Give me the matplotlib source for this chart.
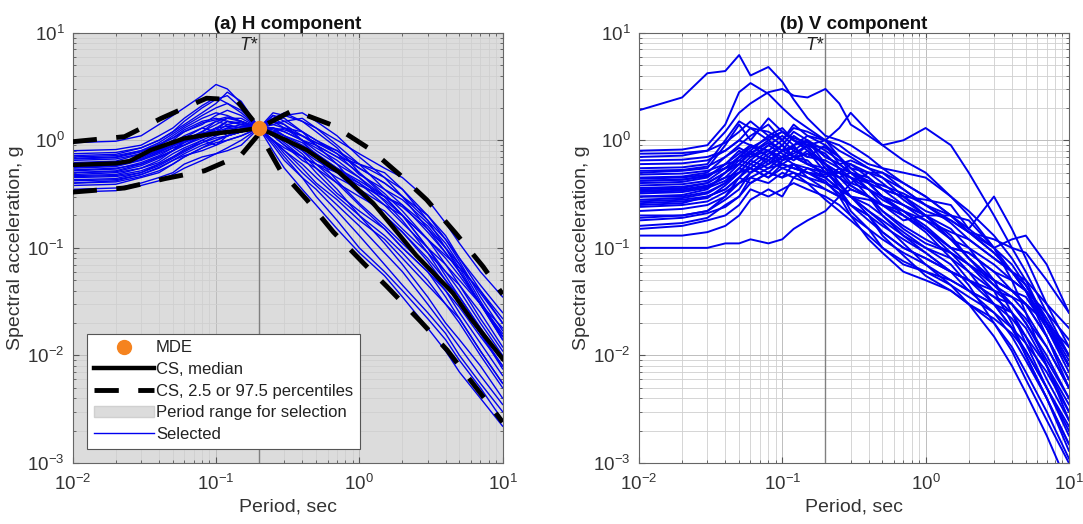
import matplotlib
matplotlib.use("Agg")
import matplotlib.pyplot as plt
from matplotlib.lines import Line2D
from matplotlib.patches import Patch

plt.rcParams["font.family"] = ["Liberation Sans", "DejaVu Sans"]
plt.rcParams["mathtext.default"] = "regular"

# ==========================================================
# Data
# ==========================================================

periods = [0.01, 0.02, 0.03, 0.04, 0.05, 0.06, 0.08, 0.1, 0.12, 0.15, 0.2, 0.25,
           0.3, 0.4, 0.5, 0.7, 1, 1.5, 2, 3, 4, 5, 7, 10]

t_star = 0.2
mde_sa = 1.3

cs_med_periods = [0.01, 0.02, 0.025, 0.035, 0.06, 0.1, 0.15, 0.2, 0.3, 0.43,
                  0.73, 1.25, 2.5, 4.5, 6, 10]
cs_median = [0.59, 0.61, 0.64, 0.81, 1.04, 1.16, 1.23, 1.3, 1.02, 0.81,
             0.5, 0.26, 0.085, 0.038, 0.022, 0.0093]

cs_hi_periods = [0.01, 0.023, 0.0415, 0.071, 0.086, 0.139, 0.2, 0.345, 0.66,
                 1.2, 1.91, 2.95, 4.7, 7.3, 10]
cs_hi = [0.97, 1.08, 1.6, 2.2, 2.46, 2.37, 1.3, 1.9, 1.37,
         0.82, 0.48, 0.28, 0.137, 0.067, 0.037]

cs_lo_periods = [0.01, 0.023, 0.044, 0.083, 0.15, 0.2, 0.214, 0.28, 0.43, 0.66,
                 1.07, 1.55, 2.65, 4.1, 6.2, 10]
cs_lo = [0.33, 0.36, 0.44, 0.52, 0.73, 1.15, 1.0, 0.53, 0.28, 0.14,
         0.072, 0.044, 0.021, 0.0112, 0.0055, 0.0024]

h_selected = [
    [0.95, 0.98, 1.1, 1.4, 1.7, 2.0, 2.6, 3.3, 3.0, 2.2, 1.3, 1.8, 1.7, 1.5, 1.3, 1.0, 0.75, 0.55, 0.45, 0.28, 0.17, 0.11, 0.06, 0.035],
    [0.72, 0.74, 0.85, 1.0, 1.2, 1.5, 2.0, 2.4, 2.6, 2.0, 1.3, 1.6, 1.4, 1.1, 0.9, 0.7, 0.6, 0.5, 0.35, 0.18, 0.1, 0.06, 0.03, 0.015],
    [0.55, 0.57, 0.65, 0.75, 0.85, 0.9, 1.1, 1.3, 1.5, 1.4, 1.3, 1.2, 1.0, 0.75, 0.55, 0.35, 0.2, 0.11, 0.07, 0.035, 0.02, 0.014, 0.008, 0.004],
    [0.45, 0.46, 0.5, 0.6, 0.7, 0.8, 1.0, 0.9, 1.1, 1.2, 1.3, 1.0, 0.8, 0.55, 0.4, 0.28, 0.18, 0.12, 0.08, 0.045, 0.03, 0.022, 0.011, 0.0055],
    [0.35, 0.36, 0.4, 0.45, 0.5, 0.6, 0.7, 0.75, 0.85, 1.0, 1.3, 1.1, 0.9, 0.65, 0.55, 0.4, 0.3, 0.22, 0.15, 0.09, 0.06, 0.045, 0.025, 0.012],
    [0.62, 0.64, 0.75, 0.9, 1.1, 1.3, 1.6, 1.8, 1.7, 1.5, 1.3, 1.4, 1.5, 1.6, 1.3, 0.9, 0.6, 0.35, 0.25, 0.14, 0.09, 0.06, 0.03, 0.016],
    [0.5, 0.52, 0.6, 0.7, 0.8, 1.0, 1.2, 1.5, 1.6, 1.5, 1.3, 0.9, 0.65, 0.45, 0.35, 0.22, 0.13, 0.07, 0.045, 0.025, 0.016, 0.01, 0.0055, 0.003],
    [0.6, 0.61, 0.68, 0.8, 0.95, 1.1, 1.3, 1.2, 1.4, 1.5, 1.3, 1.5, 1.3, 1.0, 0.8, 0.6, 0.45, 0.3, 0.2, 0.1, 0.06, 0.04, 0.02, 0.01],
    [0.4, 0.42, 0.48, 0.55, 0.65, 0.75, 0.9, 1.0, 1.1, 1.2, 1.3, 1.2, 1.1, 0.9, 0.75, 0.55, 0.4, 0.25, 0.17, 0.1, 0.07, 0.05, 0.03, 0.018],
    [0.8, 0.82, 0.9, 1.1, 1.3, 1.6, 2.1, 2.5, 2.2, 1.8, 1.3, 1.7, 1.6, 1.2, 1.0, 0.8, 0.55, 0.4, 0.3, 0.2, 0.13, 0.08, 0.04, 0.02],
    [0.52, 0.54, 0.62, 0.72, 0.85, 0.95, 1.2, 1.1, 1.3, 1.4, 1.3, 1.3, 1.2, 1.0, 0.9, 0.7, 0.5, 0.32, 0.22, 0.12, 0.07, 0.045, 0.022, 0.011],
    [0.65, 0.67, 0.75, 0.85, 1.0, 1.2, 1.4, 1.7, 1.9, 1.7, 1.3, 1.1, 0.9, 0.7, 0.6, 0.45, 0.35, 0.25, 0.2, 0.12, 0.08, 0.055, 0.03, 0.015],
    [0.38, 0.39, 0.45, 0.5, 0.6, 0.7, 0.85, 0.95, 1.0, 1.1, 1.3, 1.5, 1.7, 1.8, 1.5, 1.1, 0.7, 0.45, 0.3, 0.15, 0.09, 0.06, 0.03, 0.014],
    [0.58, 0.6, 0.7, 0.82, 0.95, 1.05, 1.3, 1.5, 1.4, 1.3, 1.3, 0.95, 0.7, 0.45, 0.3, 0.18, 0.1, 0.06, 0.04, 0.022, 0.014, 0.009, 0.005, 0.0025],
    [0.48, 0.5, 0.55, 0.65, 0.8, 0.9, 1.05, 1.2, 1.3, 1.25, 1.3, 1.4, 1.3, 1.2, 1.0, 0.75, 0.55, 0.4, 0.3, 0.18, 0.12, 0.08, 0.045, 0.025],
    [0.7, 0.72, 0.8, 0.95, 1.15, 1.35, 1.7, 2.0, 2.2, 1.9, 1.3, 1.2, 1.0, 0.8, 0.6, 0.4, 0.25, 0.15, 0.1, 0.06, 0.04, 0.028, 0.015, 0.008],
    [0.43, 0.44, 0.5, 0.58, 0.68, 0.78, 0.95, 1.1, 1.2, 1.25, 1.3, 1.0, 0.85, 0.7, 0.6, 0.5, 0.4, 0.28, 0.2, 0.1, 0.055, 0.035, 0.018, 0.009],
    [0.56, 0.58, 0.66, 0.78, 0.9, 1.0, 1.15, 1.3, 1.35, 1.3, 1.3, 1.6, 1.8, 1.5, 1.2, 0.85, 0.5, 0.3, 0.2, 0.12, 0.085, 0.065, 0.04, 0.022],
    [0.33, 0.34, 0.38, 0.42, 0.48, 0.55, 0.65, 0.75, 0.8, 0.9, 1.3, 1.7, 1.5, 1.2, 0.9, 0.6, 0.35, 0.2, 0.14, 0.08, 0.05, 0.035, 0.018, 0.009],
    [0.67, 0.69, 0.78, 0.92, 1.05, 1.25, 1.5, 1.6, 1.5, 1.4, 1.3, 1.1, 1.0, 0.85, 0.7, 0.5, 0.32, 0.2, 0.14, 0.075, 0.045, 0.03, 0.016, 0.0075],
    [0.5, 0.51, 0.58, 0.68, 0.8, 0.9, 1.1, 1.3, 1.1, 1.2, 1.3, 1.3, 1.1, 0.8, 0.65, 0.5, 0.38, 0.3, 0.25, 0.16, 0.1, 0.065, 0.03, 0.014],
    [0.75, 0.77, 0.85, 1.0, 1.2, 1.4, 1.8, 2.2, 2.8, 2.3, 1.3, 1.0, 0.8, 0.6, 0.45, 0.3, 0.2, 0.13, 0.09, 0.05, 0.03, 0.02, 0.01, 0.005],
    [0.42, 0.43, 0.48, 0.56, 0.65, 0.72, 0.8, 0.9, 1.0, 1.1, 1.3, 1.2, 1.3, 1.1, 0.95, 0.8, 0.6, 0.45, 0.35, 0.2, 0.12, 0.075, 0.035, 0.017],
    [0.6, 0.62, 0.7, 0.8, 0.9, 1.0, 1.2, 1.4, 1.6, 1.6, 1.3, 1.3, 1.2, 1.0, 0.85, 0.65, 0.45, 0.27, 0.18, 0.09, 0.05, 0.032, 0.016, 0.008],
    [0.47, 0.48, 0.55, 0.62, 0.75, 0.85, 1.0, 1.15, 1.25, 1.2, 1.3, 0.8, 0.55, 0.35, 0.25, 0.15, 0.09, 0.055, 0.035, 0.018, 0.011, 0.007, 0.004, 0.0022],
    [0.53, 0.55, 0.6, 0.7, 0.8, 0.95, 1.1, 1.25, 1.5, 1.45, 1.3, 1.0, 0.75, 0.5, 0.38, 0.25, 0.16, 0.09, 0.06, 0.03, 0.018, 0.012, 0.0065, 0.0035],
    [0.4, 0.41, 0.46, 0.52, 0.6, 0.7, 0.85, 1.0, 1.1, 1.2, 1.3, 1.15, 0.95, 0.7, 0.5, 0.32, 0.22, 0.15, 0.1, 0.06, 0.035, 0.022, 0.011, 0.0055],
    [0.68, 0.7, 0.8, 0.9, 1.05, 1.2, 1.45, 1.55, 1.65, 1.5, 1.3, 1.25, 1.1, 0.95, 0.75, 0.55, 0.42, 0.3, 0.24, 0.15, 0.1, 0.07, 0.038, 0.02],
    [0.46, 0.47, 0.52, 0.6, 0.7, 0.82, 0.95, 1.05, 1.1, 1.2, 1.3, 1.5, 1.4, 1.0, 0.7, 0.42, 0.26, 0.16, 0.11, 0.065, 0.04, 0.025, 0.013, 0.0065],
    [0.57, 0.59, 0.66, 0.77, 0.88, 0.98, 1.1, 1.2, 1.2, 1.35, 1.3, 1.3, 1.25, 1.1, 0.95, 0.75, 0.48, 0.35, 0.28, 0.17, 0.11, 0.07, 0.032, 0.015],
]

v_selected = [
    [1.9, 2.5, 4.2, 4.4, 6.2, 4.0, 4.8, 3.5, 2.4, 1.6, 1.1, 1.0, 0.9, 0.7, 0.55, 0.4, 0.3, 0.2, 0.14, 0.09, 0.06, 0.04, 0.02, 0.01],
    [0.8, 0.82, 0.9, 1.4, 2.8, 3.4, 2.7, 2.0, 1.6, 1.3, 1.0, 0.7, 0.55, 0.4, 0.3, 0.2, 0.15, 0.09, 0.06, 0.03, 0.018, 0.011, 0.005, 0.0022],
    [0.7, 0.72, 0.8, 1.2, 1.8, 2.2, 2.8, 3.0, 2.6, 2.5, 3.0, 2.2, 1.4, 1.1, 0.9, 0.65, 0.5, 0.3, 0.2, 0.1, 0.06, 0.04, 0.018, 0.008],
    [0.55, 0.56, 0.6, 1.0, 1.5, 1.3, 1.2, 1.0, 1.4, 1.1, 1.0, 1.3, 1.8, 1.2, 0.9, 1.0, 1.3, 0.9, 0.5, 0.2, 0.1, 0.06, 0.025, 0.01],
    [0.5, 0.52, 0.55, 0.9, 1.4, 1.0, 1.6, 1.2, 1.0, 0.9, 0.85, 0.7, 0.55, 0.5, 0.4, 0.28, 0.2, 0.12, 0.08, 0.045, 0.03, 0.02, 0.009, 0.004],
    [0.45, 0.46, 0.5, 0.7, 0.9, 1.1, 1.4, 1.0, 0.8, 1.0, 0.7, 0.6, 0.5, 0.35, 0.3, 0.22, 0.15, 0.1, 0.09, 0.06, 0.04, 0.03, 0.015, 0.006],
    [0.4, 0.41, 0.45, 0.6, 0.8, 0.7, 0.9, 1.1, 0.9, 1.0, 0.6, 0.45, 0.35, 0.3, 0.25, 0.18, 0.2, 0.15, 0.1, 0.05, 0.025, 0.013, 0.005, 0.0018],
    [0.35, 0.36, 0.4, 0.5, 0.7, 0.9, 0.8, 0.65, 0.7, 0.9, 0.75, 0.55, 0.4, 0.35, 0.25, 0.2, 0.14, 0.08, 0.05, 0.03, 0.018, 0.01, 0.004, 0.0013],
    [0.3, 0.31, 0.35, 0.5, 0.6, 0.8, 0.6, 0.7, 0.9, 0.6, 0.5, 0.5, 0.45, 0.3, 0.22, 0.16, 0.12, 0.09, 0.07, 0.045, 0.035, 0.025, 0.012, 0.005],
    [0.28, 0.29, 0.32, 0.4, 0.55, 0.5, 0.7, 0.6, 0.55, 0.5, 0.45, 0.35, 0.3, 0.25, 0.2, 0.14, 0.1, 0.07, 0.045, 0.02, 0.011, 0.006, 0.0025, 0.001],
    [0.25, 0.26, 0.3, 0.35, 0.45, 0.6, 0.5, 0.65, 0.8, 0.7, 0.9, 0.6, 0.5, 0.45, 0.35, 0.25, 0.2, 0.13, 0.08, 0.05, 0.04, 0.03, 0.02, 0.009],
    [0.22, 0.23, 0.25, 0.3, 0.4, 0.5, 0.65, 0.55, 0.6, 0.45, 0.4, 0.35, 0.25, 0.2, 0.16, 0.12, 0.09, 0.06, 0.05, 0.035, 0.025, 0.015, 0.006, 0.0025],
    [0.18, 0.19, 0.21, 0.24, 0.3, 0.45, 0.4, 0.5, 0.45, 0.55, 0.5, 0.4, 0.3, 0.22, 0.18, 0.13, 0.1, 0.08, 0.06, 0.04, 0.03, 0.02, 0.01, 0.004],
    [0.15, 0.16, 0.18, 0.2, 0.25, 0.35, 0.3, 0.35, 0.4, 0.35, 0.3, 0.25, 0.2, 0.15, 0.12, 0.09, 0.07, 0.05, 0.04, 0.03, 0.025, 0.018, 0.008, 0.003],
    [0.13, 0.13, 0.14, 0.16, 0.2, 0.28, 0.35, 0.3, 0.45, 0.4, 0.35, 0.3, 0.25, 0.2, 0.14, 0.1, 0.08, 0.06, 0.05, 0.035, 0.03, 0.022, 0.012, 0.005],
    [0.1, 0.1, 0.1, 0.11, 0.11, 0.12, 0.11, 0.12, 0.15, 0.18, 0.22, 0.3, 0.4, 0.5, 0.45, 0.35, 0.25, 0.2, 0.14, 0.12, 0.1, 0.09, 0.05, 0.025],
    [0.6, 0.61, 0.65, 0.8, 1.0, 1.3, 1.0, 0.8, 1.1, 0.9, 0.55, 0.45, 0.5, 0.4, 0.3, 0.25, 0.18, 0.12, 0.1, 0.07, 0.05, 0.04, 0.018, 0.007],
    [0.38, 0.39, 0.42, 0.55, 0.7, 0.75, 1.0, 1.2, 1.0, 0.8, 0.5, 0.38, 0.3, 0.22, 0.17, 0.11, 0.07, 0.045, 0.03, 0.015, 0.008, 0.0045, 0.0018, 0.0006],
    [0.33, 0.34, 0.37, 0.45, 0.5, 0.65, 0.55, 0.6, 0.7, 0.75, 0.6, 0.5, 0.45, 0.4, 0.35, 0.3, 0.22, 0.18, 0.14, 0.09, 0.06, 0.045, 0.022, 0.01],
    [0.48, 0.49, 0.52, 0.6, 0.75, 0.9, 0.7, 0.9, 1.2, 1.0, 0.8, 0.65, 0.6, 0.5, 0.5, 0.4, 0.3, 0.2, 0.15, 0.3, 0.15, 0.08, 0.03, 0.012],
    [0.27, 0.28, 0.3, 0.35, 0.45, 0.4, 0.5, 0.45, 0.6, 0.5, 0.4, 0.32, 0.25, 0.18, 0.14, 0.1, 0.08, 0.06, 0.05, 0.04, 0.035, 0.03, 0.02, 0.012],
    [0.42, 0.43, 0.46, 0.6, 0.65, 0.8, 1.1, 0.9, 0.7, 0.65, 0.45, 0.35, 0.3, 0.28, 0.25, 0.22, 0.16, 0.1, 0.07, 0.04, 0.02, 0.01, 0.004, 0.0015],
    [0.3, 0.3, 0.33, 0.4, 0.5, 0.55, 0.45, 0.55, 0.5, 0.45, 0.35, 0.3, 0.35, 0.3, 0.22, 0.15, 0.11, 0.09, 0.07, 0.05, 0.04, 0.035, 0.018, 0.008],
    [0.2, 0.2, 0.22, 0.28, 0.35, 0.5, 0.6, 0.8, 0.7, 0.6, 0.5, 0.45, 0.38, 0.3, 0.25, 0.2, 0.15, 0.1, 0.09, 0.06, 0.05, 0.04, 0.025, 0.014],
    [0.36, 0.37, 0.4, 0.5, 0.65, 0.6, 0.8, 0.7, 0.75, 0.9, 1.0, 0.8, 0.7, 0.55, 0.5, 0.35, 0.25, 0.17, 0.12, 0.08, 0.06, 0.05, 0.03, 0.018],
    [0.24, 0.25, 0.27, 0.33, 0.4, 0.45, 0.55, 0.7, 0.6, 0.55, 0.45, 0.55, 0.5, 0.4, 0.3, 0.25, 0.2, 0.2, 0.18, 0.1, 0.05, 0.025, 0.008, 0.0025],
    [0.16, 0.17, 0.19, 0.25, 0.3, 0.4, 0.5, 0.45, 0.5, 0.4, 0.28, 0.22, 0.18, 0.13, 0.1, 0.075, 0.06, 0.045, 0.035, 0.025, 0.018, 0.013, 0.007, 0.003],
    [0.65, 0.66, 0.7, 0.8, 1.0, 0.9, 0.8, 1.0, 1.3, 1.2, 1.0, 0.9, 0.75, 0.6, 0.55, 0.5, 0.45, 0.3, 0.22, 0.13, 0.08, 0.05, 0.02, 0.008],
    [0.32, 0.33, 0.36, 0.42, 0.55, 0.7, 0.8, 0.6, 0.55, 0.5, 0.48, 0.5, 0.6, 0.45, 0.35, 0.3, 0.28, 0.25, 0.15, 0.1, 0.12, 0.13, 0.07, 0.025],
    [0.44, 0.45, 0.48, 0.55, 0.6, 0.75, 0.65, 0.8, 0.85, 0.7, 0.65, 0.55, 0.45, 0.35, 0.28, 0.22, 0.18, 0.14, 0.12, 0.08, 0.06, 0.04, 0.015, 0.005],
    [0.75, 0.76, 0.8, 0.95, 1.2, 1.5, 1.1, 1.3, 1.0, 0.85, 0.6, 0.5, 0.38, 0.3, 0.2, 0.13, 0.09, 0.06, 0.04, 0.025, 0.015, 0.009, 0.004, 0.0015],
    [0.34, 0.35, 0.38, 0.45, 0.6, 0.55, 0.75, 0.9, 0.7, 0.6, 0.55, 0.35, 0.22, 0.15, 0.1, 0.07, 0.06, 0.05, 0.04, 0.03, 0.022, 0.015, 0.008, 0.0035],
    [0.26, 0.27, 0.29, 0.38, 0.5, 0.65, 0.9, 0.75, 0.65, 0.8, 0.6, 0.4, 0.3, 0.2, 0.13, 0.085, 0.055, 0.04, 0.03, 0.02, 0.012, 0.007, 0.003, 0.0011],
    [0.42, 0.43, 0.47, 0.55, 0.7, 0.85, 1.05, 1.2, 1.05, 0.95, 0.7, 0.6, 0.65, 0.55, 0.45, 0.3, 0.2, 0.12, 0.08, 0.05, 0.04, 0.03, 0.015, 0.006],
    [0.19, 0.2, 0.22, 0.3, 0.45, 0.55, 0.45, 0.6, 0.55, 0.5, 0.42, 0.3, 0.2, 0.12, 0.09, 0.06, 0.05, 0.04, 0.03, 0.022, 0.016, 0.011, 0.005, 0.002],
    [0.52, 0.53, 0.57, 0.7, 0.85, 0.75, 0.95, 0.8, 0.9, 1.1, 0.9, 0.7, 0.5, 0.42, 0.38, 0.32, 0.25, 0.18, 0.14, 0.1, 0.07, 0.045, 0.02, 0.008],
]

# ==========================================================
# Helper
# ==========================================================

TEXT = "#333333"


def style_axes(ax, title):
    ax.set_xscale("log")
    ax.set_yscale("log")
    ax.set_xlim(1e-2, 1e1)
    ax.set_ylim(1e-3, 1e1)
    ax.set_axisbelow("line")
    ax.grid(True, which="major", color="#bdbdbd", linewidth=0.7)
    ax.grid(True, which="minor", color="#cfcfcf", linewidth=0.6)
    ax.tick_params(which="both", direction="in", top=True, right=True,
                   colors="#555555", labelcolor=TEXT, labelsize=13.5)
    ax.tick_params(which="major", length=4)
    ax.tick_params(which="minor", length=2.5)
    ax.tick_params(axis="x", which="major", pad=8)
    ax.tick_params(axis="y", which="major", pad=6)
    for s in ax.spines.values():
        s.set_color("#666666")
        s.set_linewidth(0.8)
    ax.axvline(t_star, color="#808080", linewidth=1.0, zorder=1.8)
    ax.text(t_star * 0.97, 7.6, "T*", style="italic", fontsize=13,
            ha="right", va="center", color="#222222")
    ax.set_title(title, fontsize=13.5, fontweight="bold", pad=3, color="#111111")
    ax.set_xlabel("Period, sec", fontsize=14, color=TEXT, labelpad=3)
    ax.set_ylabel("Spectral acceleration, g", fontsize=14, color=TEXT, labelpad=2)


fig = plt.figure(figsize=(10.83, 5.24), dpi=100)
ax1 = fig.add_axes([0.0671, 0.1164, 0.3970, 0.8212])
ax2 = fig.add_axes([0.5900, 0.1164, 0.3970, 0.8212])

# ==========================================================
# (a) H component
# ==========================================================

ax1.axvspan(1e-2, 1e1, color="#dcdcdc", zorder=1)
for sa in h_selected:
    ax1.plot(periods, sa, color="#0000f0", linewidth=1.0, zorder=2)
ax1.plot(cs_med_periods, cs_median, color="black", linewidth=3.2, zorder=3)
ax1.plot(cs_hi_periods, cs_hi, color="black", linewidth=3.5,
         dashes=(5, 4), zorder=3)
ax1.plot(cs_lo_periods, cs_lo, color="black", linewidth=3.5,
         dashes=(5, 4), zorder=3)
ax1.plot([t_star], [mde_sa], "o", color="#f5831f", markersize=10, zorder=4)
style_axes(ax1, "(a) H component")

handles = [
    Line2D([], [], marker="o", linestyle="none", color="#f5831f", markersize=10),
    Line2D([], [], color="black", linewidth=3.2),
    Line2D([], [], color="black", linewidth=3.5, dashes=(5, 4)),
    Patch(facecolor="#dcdcdc", edgecolor="#d0d0d0"),
    Line2D([], [], color="#0000f0", linewidth=1.0),
]
labels = ["MDE", "CS, median", "CS, 2.5 or 97.5 percentiles",
          "Period range for selection", "Selected"]
leg = ax1.legend(handles, labels, loc="lower left", bbox_to_anchor=(0.033, 0.033),
                 borderaxespad=0, fontsize=12, handlelength=3.6, handletextpad=0.15,
                 labelspacing=0.4, borderpad=0.4, fancybox=False, framealpha=1)
leg.get_frame().set_edgecolor("#555555")
leg.get_frame().set_linewidth(0.8)
for t in leg.get_texts():
    t.set_color("#222222")

# ==========================================================
# (b) V component
# ==========================================================

for sa in v_selected:
    ax2.plot(periods, sa, color="#0000f0", linewidth=1.4, zorder=2)
style_axes(ax2, "(b) V component")

fig.savefig("out.png", dpi=100)
